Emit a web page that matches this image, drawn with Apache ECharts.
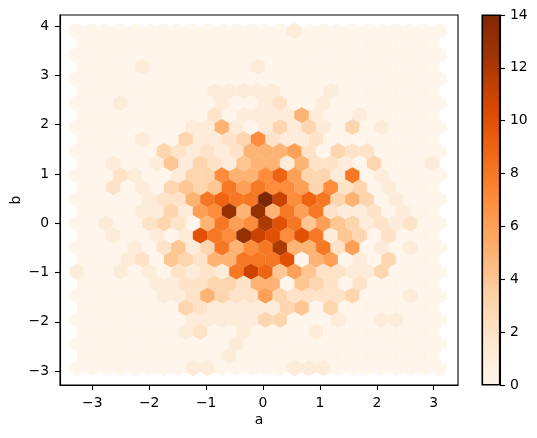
<!DOCTYPE html>
<html>
<head>
<meta charset="utf-8">
<style>html,body{margin:0;padding:0;background:#fff}#c{width:537px;height:438px}</style>
<script src="https://cdn.jsdelivr.net/npm/echarts@6/dist/echarts.min.js"></script>
</head>
<body>
<div id="c"></div>
<script>
// hexbin counts, one array per row from top (b high) to bottom (b low)
var r00=[0,0,0,0,0,0,0,0,0,0,0,0,0,0,0,1,0,0,0,0,0,0,0,0,0,0];
var r01=[0,0,0,0,0,0,0,0,0,0,0,0,0,0,0,0,0,0,0,0,0,0,0,0,0];
var r02=[0,0,0,0,0,0,0,0,0,0,0,0,0,0,0,0,0,0,0,0,0,0,0,0,0,0];
var r03=[0,0,0,0,1,0,0,0,0,0,0,0,1,0,0,0,0,0,0,0,0,0,0,0,0];
var r04=[0,0,0,0,0,0,0,0,0,0,0,0,0,0,0,0,0,0,0,0,0,0,0,0,0,0];
var r05=[0,0,0,0,0,0,0,0,0,1,1,1,1,1,0,0,0,1,0,0,0,0,0,0,0];
var r06=[0,0,0,1,0,0,0,0,0,0,1,0,0,1,2,0,0,1,0,0,0,0,0,0,0,0];
var r07=[0,0,0,0,0,0,0,0,0,2,0,1,1,1,1,5,1,0,0,1,0,0,0,0,0];
var r08=[0,0,0,0,0,0,0,0,1,1,5,1,0,1,3,1,3,1,0,3,0,1,0,0,0,0];
var r09=[0,0,0,0,1,0,0,3,1,1,2,3,7,2,1,1,2,0,0,0,0,0,0,0,0];
var r10=[0,0,0,0,0,0,3,2,1,2,1,2,5,5,5,6,2,0,3,2,2,0,0,0,0,0];
var r11=[0,0,1,0,0,1,4,1,3,2,1,4,5,5,1,5,2,2,1,0,3,0,0,0,1];
var r12=[0,0,0,2,1,0,0,1,3,3,7,5,5,7,9,6,3,3,1,8,0,1,0,0,0,0];
var r13=[0,0,2,0,1,0,3,4,3,4,8,6,8,7,7,6,3,7,2,3,0,1,0,0,0];
var r14=[0,0,0,0,0,1,2,2,5,8,9,8,8,14,11,7,9,8,3,5,3,0,1,0,0,0];
var r15=[0,0,0,0,1,1,3,1,6,7,13,5,13,5,8,6,8,2,1,1,2,0,1,0,0];
var r16=[0,0,1,0,0,2,3,2,0,5,8,6,7,12,10,8,4,6,4,3,1,2,1,2,0,0];
var r17=[0,0,1,0,0,1,0,1,10,8,7,13,11,10,7,10,8,1,4,3,0,2,0,0,0];
var r18=[0,0,0,0,1,0,2,4,1,3,8,5,7,8,12,5,5,8,2,6,0,1,0,1,0,0];
var r19=[0,0,0,1,2,0,4,3,2,5,5,8,8,8,10,0,5,6,0,1,0,3,0,0,0];
var r20=[1,0,0,1,0,1,0,2,1,2,1,8,11,9,4,6,4,2,2,1,1,3,0,0,0,0];
var r21=[0,0,0,0,0,1,1,2,2,3,3,2,5,5,0,4,3,2,0,2,0,0,0,0,0];
var r22=[0,0,0,0,0,0,1,1,2,5,3,2,2,6,3,2,2,2,2,3,0,0,0,1,0,0];
var r23=[0,0,0,0,0,0,0,3,2,1,1,1,1,1,3,4,0,3,0,0,0,0,0,0,0];
var r24=[0,0,0,0,0,0,0,0,1,1,1,1,1,3,3,0,0,0,1,0,0,1,1,0,0,0];
var r25=[0,0,0,0,0,0,0,1,2,0,0,1,0,0,0,0,1,0,0,0,0,0,0,0,0];
var r26=[0,0,0,0,0,0,0,0,0,0,0,1,0,0,0,0,0,0,0,0,0,0,0,0,0,0];
var r27=[0,0,0,0,0,0,0,0,0,0,1,0,0,0,0,0,0,0,0,0,0,0,0,0,0];
var r28=[0,0,0,0,0,0,0,0,1,1,0,0,0,0,0,1,1,1,0,0,0,0,0,0,0,0];
var rows=[r00,r01,r02,r03,r04,r05,r06,r07,r08,r09,r10,r11,r12,r13,r14,r15,r16,r17,r18,r19,r20,r21,r22,r23,r24,r25,r26,r27,r28];

// bin grid of the hexbin (data units)
var aFirst=-3.269, aStep=0.2548, bFirst=3.899, bStep=0.2442;

var xTicks=[-3,-2,-1,0,1,2,3];
var yTicks=[-3,-2,-1,0,1,2,3,4];
var cTicks=[0,2,4,6,8,10,12,14];
var xName='a', yName='b';
var cMax=14;
var oranges=['#fff5eb','#fee6ce','#fdd0a2','#fdae6b','#fd8d3c','#f16913','#d94801','#a63603','#7f2704'];

function hex2rgb(h){return [1,3,5].map(function(i){return parseInt(h.substr(i,2),16);});}
function colorAt(t){
  var p=Math.max(0,Math.min(1,t))*(oranges.length-1), i=Math.min(Math.floor(p),oranges.length-2), f=p-i;
  var a=hex2rgb(oranges[i]), b=hex2rgb(oranges[i+1]);
  return 'rgb('+[0,1,2].map(function(k){return Math.round(a[k]+(b[k]-a[k])*f);}).join(',')+')';
}

var cells=[];
rows.forEach(function(row,r){
  var off=row.length===26?0:aStep/2;
  row.forEach(function(v,i){ cells.push([aFirst+off+i*aStep, bFirst-r*bStep, v]); });
});

var stops=[];
for(var s=0;s<=56;s++){stops.push({offset:s/56,color:colorAt(1-s/56)});}

var font='"DejaVu Sans"', ink='#000';
var axisCommon={
  axisLine:{show:true,onZero:false,lineStyle:{color:ink,width:1.1}},
  axisTick:{show:true,length:5,inside:false,lineStyle:{color:ink,width:1.1}},
  splitLine:{show:false},
  nameMoveOverlap:false,
  nameTextStyle:{fontFamily:font,fontSize:13.9,color:ink}
};
function lab(vals,margin){return {show:true,customValues:vals,fontFamily:font,fontSize:13.9,color:ink,margin:margin,hideOverlap:false,showMinLabel:true,showMaxLabel:true,formatter:function(v){return String(v).replace('-','\u2212');}};}
function tick(vals){return Object.assign({},axisCommon.axisTick,{customValues:vals});}

var chart=echarts.init(document.getElementById('c'),null,{renderer:'canvas'});
chart.setOption({
  animation:false,
  backgroundColor:'#fff',
  grid:[
    {left:60,top:15,width:398,height:370,show:true,borderColor:ink,borderWidth:1.1,backgroundColor:'#fff',containLabel:false,outerBoundsMode:'none'},
    {left:482,top:15,width:18,height:370,show:true,borderColor:ink,borderWidth:1.1,containLabel:false,outerBoundsMode:'none'}
  ],
  xAxis:[
    Object.assign({},axisCommon,{type:'value',gridIndex:0,min:-3.568,max:3.427,name:xName,nameLocation:'middle',nameGap:28,axisTick:tick(xTicks),axisLabel:lab(xTicks,11)}),
    {type:'category',gridIndex:1,data:[''],show:false,boundaryGap:true}
  ],
  yAxis:[
    Object.assign({},axisCommon,{type:'value',gridIndex:0,min:-3.282,max:4.223,name:yName,nameLocation:'middle',nameGap:37,axisTick:tick(yTicks),axisLabel:lab(yTicks,11)}),
    Object.assign({},axisCommon,{type:'value',gridIndex:1,position:'right',min:0,max:cMax,axisTick:tick(cTicks),axisLabel:lab(cTicks,10)})
  ],
  series:[
    {
      type:'custom',xAxisIndex:0,yAxisIndex:0,clip:true,silent:true,
      data:cells,encode:{x:0,y:1},
      renderItem:function(params,api){
        var a=api.value(0),b=api.value(1),v=api.value(2);
        // rows are spaced bStep apart; apex = 2/3 of spacing, shoulder = 1/3
        var dx=aStep/2, sh=bStep/3, ap=bStep*2/3;
        var pts=[[dx,-sh],[dx,sh],[0,ap],[-dx,sh],[-dx,-sh],[0,-ap]].map(function(o){return api.coord([a+o[0],b+o[1]]);});
        var c=colorAt(v/cMax);
        return {type:'polygon',shape:{points:pts},style:{fill:c,stroke:c,lineWidth:0.3}};
      }
    },
    {
      type:'bar',xAxisIndex:1,yAxisIndex:1,silent:true,barWidth:'100%',
      data:[cMax],
      itemStyle:{color:new echarts.graphic.LinearGradient(0,0,0,1,stops),borderColor:ink,borderWidth:1.1}
    }
  ]
});
</script>
</body>
</html>
